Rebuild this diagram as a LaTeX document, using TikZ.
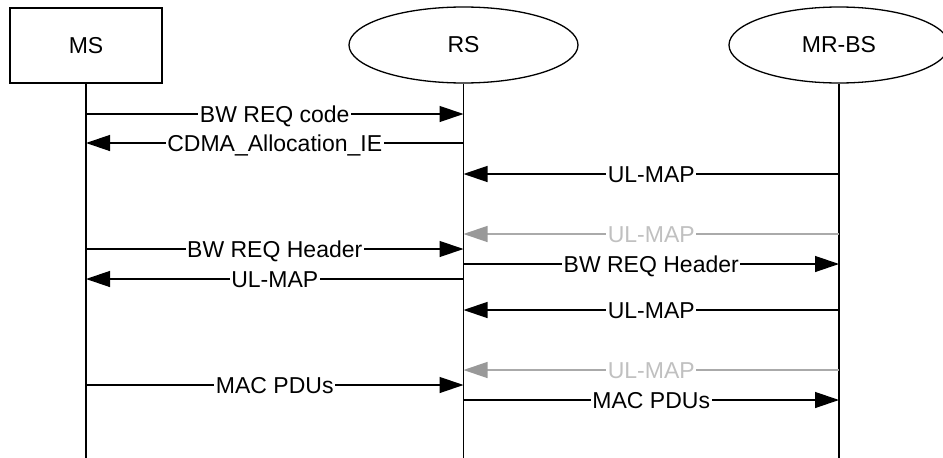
\documentclass[tikz,border=0pt]{standalone}
\usepackage{fontspec}
\setmainfont{Liberation Sans}
\usetikzlibrary{shapes.geometric,arrows.meta}
\definecolor{greyline}{HTML}{AAAAAA}
\definecolor{greytip}{HTML}{999999}
\definecolor{greytext}{HTML}{C0C0C0}
\tikzset{
  every node/.style={font=\fontsize{23}{27}\selectfont},
  actorbox/.style={draw, line width=1.3pt, rectangle, minimum width=152pt, minimum height=75pt, inner sep=0pt},
  actorell/.style={draw, line width=1.3pt, ellipse, inner sep=0pt},
  lifeline/.style={line width=1.3pt},
  msg/.style={line width=1.3pt, -{Triangle[length=24pt,width=16pt]}},
  greymsg/.style={line width=1.3pt, greyline, -{Triangle[length=24pt,width=16pt,color=greytip]}},
  lbl/.style={fill=white, inner xsep=1.5pt, inner ysep=1pt, text height=16.5pt, text depth=0pt, anchor=center},
  greylbl/.style={lbl, text=greytext}
}
\begin{document}
\begin{tikzpicture}[x=1pt,y=-1pt]
\useasboundingbox (0,0) rectangle (943,458);
\node[actorbox] (ms) at (86,45.5) {MS};
\node[actorell, minimum width=229pt, minimum height=76pt] (rs) at (463.5,45) {RS};
\node[actorell, minimum width=220pt, minimum height=76pt] (bs) at (839,45) {MR-BS};
\coordinate (msend) at (86,458);
\coordinate (rsend) at (463.5,458);
\coordinate (bsend) at (839,458);
\draw[lifeline] (ms.south) -- (msend);
\draw[lifeline] (rs.south) -- (rsend);
\draw[lifeline] (bs.south) -- (bsend);
\coordinate (r1) at (0,114);
\coordinate (r2) at (0,143);
\coordinate (r3) at (0,174);
\coordinate (r4) at (0,234);
\coordinate (r5) at (0,249);
\coordinate (r6) at (0,264);
\coordinate (r7) at (0,279);
\coordinate (r8) at (0,310);
\coordinate (r9) at (0,370);
\coordinate (r10) at (0,385);
\coordinate (r11) at (0,400);
\draw[msg] (ms |- r1) -- (rs |- r1) node[midway, lbl] {BW REQ code};
\draw[msg] (rs |- r2) -- (ms |- r2) node[midway, lbl] {CDMA\_Allocation\_IE};
\draw[msg] (bs |- r3) -- (rs |- r3) node[midway, lbl] {UL-MAP};
\draw[greymsg] (bs |- r4) -- (rs |- r4) node[midway, greylbl] {UL-MAP};
\draw[msg] (ms |- r5) -- (rs |- r5) node[midway, lbl] {BW REQ Header};
\draw[msg] (rs |- r6) -- (bs |- r6) node[midway, lbl] {BW REQ Header};
\draw[msg] (rs |- r7) -- (ms |- r7) node[midway, lbl] {UL-MAP};
\draw[msg] (bs |- r8) -- (rs |- r8) node[midway, lbl] {UL-MAP};
\draw[greymsg] (bs |- r9) -- (rs |- r9) node[midway, greylbl] {UL-MAP};
\draw[msg] (ms |- r10) -- (rs |- r10) node[midway, lbl] {MAC PDUs};
\draw[msg] (rs |- r11) -- (bs |- r11) node[midway, lbl] {MAC PDUs};
\end{tikzpicture}
\end{document}
